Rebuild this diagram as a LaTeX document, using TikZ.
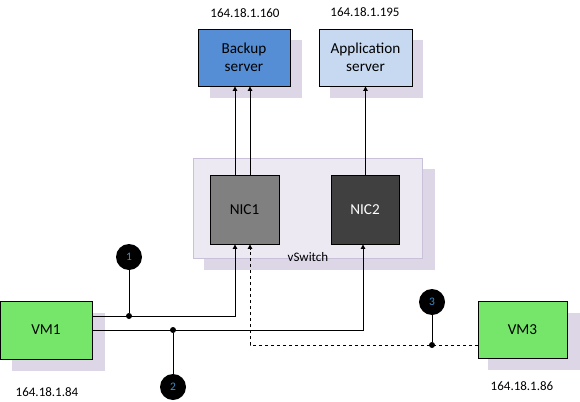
\documentclass[tikz,border=0pt]{standalone}
\usepackage{fontspec}
\setmainfont{Carlito}
\usetikzlibrary{arrows.meta}
\definecolor{shad}{HTML}{DCD6E6}
\definecolor{vsfill}{HTML}{EDE9F3}
\definecolor{vsline}{HTML}{C9C0DA}
\definecolor{backup}{HTML}{558ED5}
\definecolor{appsrv}{HTML}{C6D9F1}
\definecolor{vmgreen}{HTML}{75E66A}
\definecolor{nicone}{HTML}{808080}
\definecolor{nictwo}{HTML}{404040}
\definecolor{numblue}{HTML}{3A8FD0}
\begin{document}
\begin{tikzpicture}[x=1pt,y=-1pt,
  boxst/.style={draw=black,line width=0.9pt,font=\fontsize{15.2}{18}\selectfont,align=center,inner sep=0pt},
  lbl/.style={font=\fontsize{13}{15}\selectfont,inner sep=0pt},
  conn/.style={line width=1pt},
  arr/.style={conn,-{Triangle[width=4.5pt,length=4.5pt]}},
  dot/.style={circle,fill=black,inner sep=0pt,minimum size=6pt},
  numc/.style={circle,fill=black,inner sep=0pt,minimum size=26pt,text=numblue,font=\fontsize{11.5}{13}\selectfont}]
\useasboundingbox (0,0) rectangle (580,401);
% shadows
\fill[shad] (210,40) rectangle (302,98);
\fill[shad] (330,40) rectangle (423,98);
\fill[shad] (204,169) rectangle (435,270);
\fill[shad] (12,313) rectangle (105,371);
\fill[shad] (488,313) rectangle (580,370);
% vSwitch
\node[draw=vsline,fill=vsfill,line width=0.8pt,minimum width=229pt,minimum height=100pt,inner sep=0pt] (vs) at (307.5,208) {};
\node[lbl] (vslbl) at (308,257) {vSwitch};
% servers
\node[boxst,fill=backup,minimum width=92pt,minimum height=57pt] (bk) at (244,57.5) {Backup\\server};
\node[boxst,fill=appsrv,minimum width=93pt,minimum height=57pt] (app) at (365.5,57.5) {Application\\server};
\node[lbl] (bkip) at (245,13) {164.18.1.160};
\node[lbl] (appip) at (365,12) {164.18.1.195};
% NICs
\node[boxst,fill=nicone,minimum width=69pt,minimum height=69pt] (nic1) at (244.5,209.5) {NIC1};
\node[boxst,fill=nictwo,text=white,minimum width=68pt,minimum height=69pt] (nic2) at (365,209.5) {NIC2};
% VMs
\node[boxst,fill=vmgreen,minimum width=92pt,minimum height=58pt] (vm1) at (46,330) {VM1};
\node[boxst,fill=vmgreen,minimum width=89pt,minimum height=57pt] (vm3) at (522.5,329.5) {VM3};
\node[lbl] (vm1ip) at (47,392) {164.18.1.84};
\node[lbl] (vm3ip) at (522,386) {164.18.1.86};
% NIC to servers
\draw[arr] (nic1.north -| 235,0) -- (bk.south -| 235,0);
\draw[arr] (nic1.north -| 250,0) -- (bk.south -| 250,0);
\draw[arr] (nic2.north -| 365.5,0) -- (app.south -| 365.5,0);
% coordinates
\coordinate (a1) at (92,316);
\coordinate (a2) at (235,316);
\coordinate (b1) at (92,330);
\coordinate (b2) at (363,330);
\coordinate (c1) at (478,345);
\coordinate (c2) at (250,345);
% paths
\draw[arr] (a1) -- (a2) -- (nic1.south -| a2);
\draw[arr] (b1) -- (b2) -- (nic2.south -| b2);
\draw[arr,dashed] (c1) -- (c2) -- (nic1.south -| c2);
% markers
\node[dot] (d1) at (129,316) {};
\node[dot] (d2) at (173,330) {};
\node[dot] (d3) at (432,345) {};
\node[numc] (n1) at (129,257) {1};
\node[numc] (n2) at (173,387) {2};
\node[numc] (n3) at (432,302) {3};
\draw[conn] (d1) -- (n1);
\draw[conn] (d2) -- (n2);
\draw[conn] (d3) -- (n3);
\end{tikzpicture}
\end{document}
